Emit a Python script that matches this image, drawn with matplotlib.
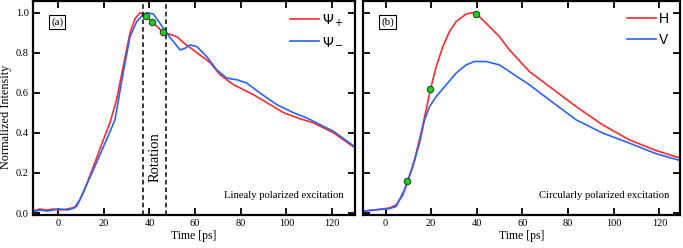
import matplotlib.pyplot as plt

plt.rcParams['font.family'] = 'Liberation Serif'
plt.rcParams['mathtext.fontset'] = 'dejavusans'

# Panel (a): linearly polarized excitation
t_plus = [-11, -8, -5, -2, 1, 4, 6, 8.1, 11, 15.4, 19.8, 22.7, 25.6, 28.5, 31.5, 33.7,
          35.9, 38.5, 41, 45.7, 49.3, 52, 54.9, 60.8, 66.6, 70.9, 76.8, 85.6, 91.5,
          98.8, 106, 111.8, 120.6, 130]
psi_plus = [0.01, 0.02, 0.015, 0.02, 0.015, 0.02, 0.025, 0.033, 0.10, 0.23, 0.365, 0.45,
            0.565, 0.73, 0.90, 0.97, 1.0, 0.985, 0.955, 0.905, 0.89, 0.88, 0.85, 0.80,
            0.75, 0.69, 0.64, 0.59, 0.55, 0.50, 0.47, 0.45, 0.40, 0.325]

t_minus = [-11, -8, -5, -2, 1, 4, 7, 9.5, 15.4, 21.2, 24.9, 28.5, 31.5, 34.4, 37.3, 38.8,
           41.7, 44.6, 47.6, 50.5, 53.4, 55.6, 57.8, 60.8, 65.1, 69.5, 73.9, 78.3, 82.7,
           88.5, 95.9, 103.2, 109, 114.9, 120.7, 130]
psi_minus = [0.005, 0.015, 0.01, 0.015, 0.02, 0.015, 0.025, 0.066, 0.215, 0.365, 0.465,
             0.70, 0.88, 0.955, 0.99, 1.0, 0.993, 0.947, 0.897, 0.855, 0.814, 0.822,
             0.839, 0.83, 0.78, 0.714, 0.673, 0.665, 0.648, 0.598, 0.54, 0.50, 0.474,
             0.44, 0.407, 0.33]

dots_a_t = [38.4, 41.3, 46.0]
dots_a_v = [0.985, 0.955, 0.905]
rotation_bounds = [37.3, 47.3]

# Panel (b): circularly polarized excitation
t_h = [-11, -5, 1.75, 4.7, 7.6, 9.8, 12.7, 15.6, 17.8, 19.7, 22.2, 25.1, 28, 30.9, 35.3,
       38.2, 40, 44.1, 49.9, 54.3, 63, 71.8, 83.5, 95.1, 106.8, 118.5, 129]
h_vals = [0.008, 0.015, 0.025, 0.041, 0.09, 0.16, 0.266, 0.40, 0.515, 0.618, 0.73, 0.83,
          0.905, 0.955, 0.993, 1.0, 0.992, 0.947, 0.88, 0.814, 0.706, 0.631, 0.531,
          0.44, 0.365, 0.312, 0.274]

t_v = [-11, -5, 1.75, 4.7, 8.3, 12, 14.9, 17.1, 19.3, 22.2, 26.6, 30.9, 35.3, 38.9, 44.1,
       49.9, 54.3, 63, 68.8, 77.6, 83.5, 95.1, 106.8, 118.5, 129]
v_vals = [0.008, 0.015, 0.022, 0.033, 0.116, 0.232, 0.349, 0.465, 0.531, 0.581, 0.64,
          0.698, 0.739, 0.756, 0.756, 0.739, 0.706, 0.64, 0.59, 0.515, 0.465, 0.399,
          0.349, 0.296, 0.262]

dots_b_t = [9.6, 19.7, 39.8]
dots_b_v = [0.161, 0.618, 0.992]

RED = '#ff2a2a'
BLUE = '#2a62ff'

fig = plt.figure(figsize=(6.83, 2.48), dpi=100)
ax_a = fig.add_axes([0.0483, 0.133, 0.4714, 0.863])
ax_b = fig.add_axes([0.531, 0.133, 0.4646, 0.863])


def style_axes(ax, xlim):
    ax.set_xlim(*xlim)
    ax.set_ylim(-0.01, 1.058)
    ax.set_xticks(range(0, 121, 20))
    ax.set_yticks([0.0, 0.2, 0.4, 0.6, 0.8, 1.0])
    ax.tick_params(direction='in', top=True, right=True, length=5, width=1.3,
                   labelsize=7.5, pad=3)
    for s in ax.spines.values():
        s.set_linewidth(1.6)
    ax.set_xlabel('Time [ps]', fontsize=8.5, labelpad=1)


# (a)
ax_a.plot(t_plus, psi_plus, color=RED, lw=1.2, label=r'$\Psi_+$')
ax_a.plot(t_minus, psi_minus, color=BLUE, lw=1.2, label=r'$\Psi_-$')
for xb in rotation_bounds:
    ax_a.axvline(xb, color='black', lw=1.1, ls=(0, (3, 2)))
ax_a.scatter(dots_a_t, dots_a_v, s=22, color='#22cc22', edgecolors='#114411',
             linewidths=0.7, zorder=5)
ax_a.text(42.4, 0.28, 'Rotation', rotation=90, ha='center', va='center', fontsize=10.5)
ax_a.text(0.966, 0.093, 'Linealy polarized excitation', transform=ax_a.transAxes,
          ha='right', va='center', fontsize=7.7)
ax_a.text(0.075, 0.9, '(a)', transform=ax_a.transAxes, ha='center', va='center',
          fontsize=8, bbox=dict(boxstyle='square,pad=0.2', fc='white', ec='black', lw=0.8))
style_axes(ax_a, (-11, 130))
ax_a.set_yticklabels(['0.0', '0.2', '0.4', '0.6', '0.8', '1.0'])
ax_a.set_ylabel('Normalized Intensity', fontsize=8.8)
ax_a.yaxis.set_label_coords(-0.064, 0.46)
ax_a.legend(loc='upper right', frameon=False, fontsize=10, handlelength=2.1,
            handletextpad=0.2, labelspacing=0.5, borderaxespad=0.4)

# (b)
ax_b.plot(t_h, h_vals, color=RED, lw=1.2, label='H')
ax_b.plot(t_v, v_vals, color=BLUE, lw=1.2, label='V')
ax_b.scatter(dots_b_t, dots_b_v, s=22, color='#22cc22', edgecolors='#114411',
             linewidths=0.7, zorder=5)
ax_b.text(0.966, 0.093, 'Circularly polarized excitation', transform=ax_b.transAxes,
          ha='right', va='center', fontsize=7.7)
ax_b.text(0.078, 0.903, '(b)', transform=ax_b.transAxes, ha='center', va='center',
          fontsize=8, bbox=dict(boxstyle='square,pad=0.2', fc='white', ec='black', lw=0.8))
style_axes(ax_b, (-10, 129))
ax_b.set_yticklabels([])
ax_b.legend(loc='upper right', frameon=False, handlelength=2.1,
            handletextpad=0.2, labelspacing=0.5, borderaxespad=0.4,
            prop={'family': 'Liberation Sans', 'size': 10})

fig.savefig('out.png', dpi=100)
